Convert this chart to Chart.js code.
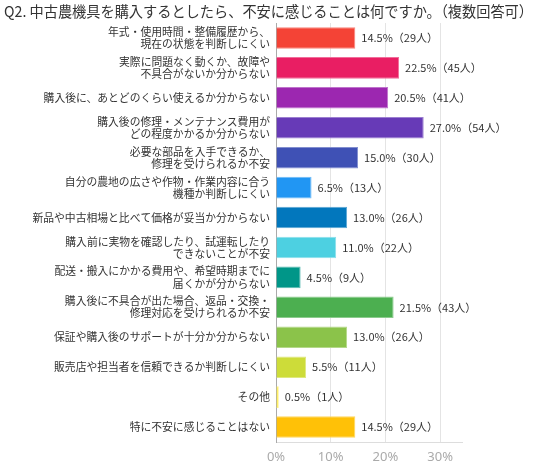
<!DOCTYPE html>
<html>
<head>
<meta charset="utf-8">
<script src="https://cdn.jsdelivr.net/npm/chart.js@4"></script>
<style>
html,body{margin:0;padding:0;background:#fff;}
#wrap{width:536px;height:464px;position:relative;}
</style>
</head>
<body>
<div id="wrap"><canvas id="c"></canvas></div>
<script>
const titleText = "Q2. 中古農機具を購入するとしたら、不安に感じることは何ですか。（複数回答可）";
const categories = [
  ["年式・使用時間・整備履歴から、","現在の状態を判断しにくい"],
  ["実際に問題なく動くか、故障や","不具合がないか分からない"],
  "購入後に、あとどのくらい使えるか分からない",
  ["購入後の修理・メンテナンス費用が","どの程度かかるか分からない"],
  ["必要な部品を入手できるか、","修理を受けられるか不安"],
  ["自分の農地の広さや作物・作業内容に合う","機種か判断しにくい"],
  "新品や中古相場と比べて価格が妥当か分からない",
  ["購入前に実物を確認したり、試運転したり","できないことが不安"],
  ["配送・搬入にかかる費用や、希望時期までに","届くかが分からない"],
  ["購入後に不具合が出た場合、返品・交換・","修理対応を受けられるか不安"],
  "保証や購入後のサポートが十分か分からない",
  "販売店や担当者を信頼できるか判断しにくい",
  "その他",
  "特に不安に感じることはない"
];
const percents = [14.5, 22.5, 20.5, 27.0, 15.0, 6.5, 13.0, 11.0, 4.5, 21.5, 13.0, 5.5, 0.5, 14.5];
const counts = [29, 45, 41, 54, 30, 13, 26, 22, 9, 43, 26, 11, 1, 29];
const barColors = ['#F44336','#E91E63','#9C27B0','#673AB7','#3F51B5','#2196F3','#0277BD','#4DD0E1','#009688','#4CAF50','#8BC34A','#CDDC39','#FFEB3B','#FFC107'];
const xTickValues = [0, 10, 20, 30];

function lighten(hex, amt){
  const n = parseInt(hex.slice(1),16);
  let r=(n>>16)&255,g=(n>>8)&255,b=n&255;
  r=Math.round(r+(255-r)*amt);g=Math.round(g+(255-g)*amt);b=Math.round(b+(255-b)*amt);
  return 'rgb('+r+','+g+','+b+')';
}

const valueLabels = {
  id:'valueLabels',
  afterDatasetsDraw(chart){
    const ctx = chart.ctx;
    const meta = chart.getDatasetMeta(0);
    ctx.save();
    ctx.font = '11px "Noto Sans CJK JP", sans-serif';
    ctx.fillStyle = '#333';
    ctx.textBaseline = 'middle';
    ctx.textAlign = 'left';
    meta.data.forEach((bar,i)=>{
      const t = percents[i].toFixed(1) + '%（' + counts[i] + '人）';
      ctx.fillText(t, bar.x + 6, bar.y);
    });
    ctx.restore();
  }
};

const titleDraw = {
  id:'titleDraw',
  afterDraw(chart){
    const ctx = chart.ctx;
    ctx.save();
    ctx.font = '15px "Noto Sans CJK JP", sans-serif';
    ctx.fillStyle = '#333';
    ctx.textBaseline = 'middle';
    ctx.textAlign = 'left';
    ctx.fillText(titleText, 4, 11, 529);
    ctx.restore();
  }
};

new Chart(document.getElementById('c'), {
  type:'bar',
  data:{
    labels:categories,
    datasets:[{
      data:percents,
      backgroundColor:barColors,
      borderColor:barColors.map(c=>lighten(c,0.35)),
      borderWidth:1,
      borderSkipped:'start',
      categoryPercentage:0.72,
      barPercentage:1.0
    }]
  },
  options:{
    indexAxis:'y',
    responsive:true,
    maintainAspectRatio:false,
    animation:false,
    layout:{padding:{left:0,right:74,top:23,bottom:0}},
    plugins:{
      legend:{display:false},
      tooltip:{enabled:false},
      title:{display:false}
    },
    scales:{
      x:{
        min:0,max:34,
        ticks:{
          stepSize:10,
          color:'#aaa',
          padding:7,
          font:{family:'"Noto Sans", Arial, sans-serif', size:13},
          callback:(v)=>v+'%'
        },
        afterBuildTicks(scale){
          scale.ticks = xTickValues.map(v=>({value:v}));
        },
        afterFit(scale){ scale.height = 22; },
        grid:{color:'#e4e4e4',drawTicks:false,lineWidth:1},
        border:{color:'#ddd',width:1}
      },
      y:{
        ticks:{
          color:'#333',
          padding:6,
          font:{family:'"Noto Sans CJK JP", sans-serif', size:10.8, lineHeight:1.12}
        },
        afterFit(scale){ scale.width = 276; },
        grid:{display:false,drawTicks:false},
        border:{color:'#aaa',width:1}
      }
    }
  },
  plugins:[valueLabels, titleDraw]
});
</script>
</body>
</html>
